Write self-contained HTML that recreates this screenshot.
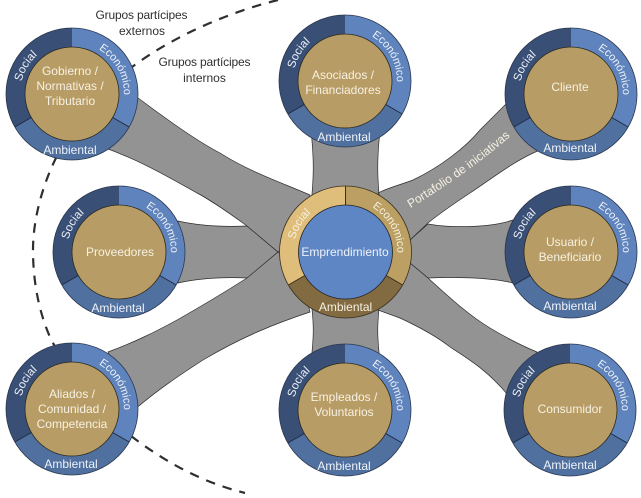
<!DOCTYPE html>
<html><head><meta charset="utf-8"><style>
html,body{margin:0;padding:0;background:#fff}
svg{display:block;filter:blur(.3px)}
text{font-family:"Liberation Sans",sans-serif;font-size:12px;fill:#f6f1e2}
.r{fill:#eef2f8}
.a{text-anchor:middle}
.d{fill:#2f2f2f}
.e{font-size:11px}
.s{font-size:11.5px}
</style></head><body>
<svg width="641" height="498" viewBox="0 0 641 498" xmlns="http://www.w3.org/2000/svg">
<defs>
<path id="eco" d="M4,-52A52,52 0 0 1 46,24"/>
<path id="soc" d="M-45.5,25.2A52,52 0 0 1 0.9,-52"/>
<g id="n">
<path d="M0,0L0,-66A66,66 0 0 0 -57.16,33Z" fill="#394f75"/>
<path d="M0,0L0,-66A66,66 0 0 1 57.16,33Z" fill="#5f84bd"/>
<path d="M0,0L57.16,33A66,66 0 0 1 -57.16,33Z" fill="#50709f"/>
<path d="M0,0L57.16,33M0,0L-57.16,33" stroke="#1f2b40" stroke-width="1"/>
<circle r="66" fill="none" stroke="#2b3850" stroke-width=".8"/>
<circle r="47" fill="#b89c65" stroke="#2a2a22" stroke-width=".8"/>
</g>
<g id="c">
<path d="M0,0L0,-66A66,66 0 0 0 -57.16,33Z" fill="#dfbd7a"/>
<path d="M0,0L0,-66A66,66 0 0 1 57.16,33Z" fill="#bc9f62"/>
<path d="M0,0L57.16,33A66,66 0 0 1 -57.16,33Z" fill="#826a41"/>
<path d="M0,0L0,-66M0,0L57.16,33M0,0L-57.16,33" stroke="#3a3020" stroke-width="1"/>
<circle r="66" fill="none" stroke="#3a3020" stroke-width=".8"/>
<circle r="47" fill="#5f86c4" stroke="#22242a" stroke-width=".8"/>
</g>
</defs>

<path d="M278,0C230,12 175,35 132,67C100,90 72,125 55,160C42,187 33,220 33,250C33,282 39,312 50,337C70,378 100,412 135,439C170,465 205,483 245,493" fill="none" stroke="#2f2f2f" stroke-width="2.2" stroke-dasharray="9.5 8"/>

<g fill="#939393" stroke="#2c2c2c" stroke-width=".7">
<path d="M311,130C314,160 314,175 311,205L380,205C377,175 377,160 380,130Z"/>
<path d="M311,300C314,325 314,335 311,362L380,362C377,335 377,325 380,300Z"/>
<path d="M178,221C200,226 225,227 247,226L278,252L248,278C225,277 200,278 178,283Z"/>
<path d="M428,224C450,228 490,228 513,220L513,283C490,277 450,277 428,278L410,263L410,240Z"/>
<path d="M134,95C165,118 195,140 220,153C250,172 280,182 310,195L300,235L278,252L247,226C225,210 205,197 197,193C170,178 140,160 100,146Z"/>
<path d="M108,352C135,342 155,332 177,320C200,307 225,292 247,278L278,252L300,270L310,312C280,322 245,335 203,360C180,375 160,388 134,410Z"/>
<path d="M378,193C390,187 400,185 413,180C440,167 465,148 480,130L510,100L540,150C515,160 490,180 470,193C455,203 440,213 428,223L410,240L395,215Z"/>
<path d="M410,263L428,278C447,295 468,315 490,328C505,337 520,345 537,352L512,400C490,372 470,360 450,347C435,335 415,325 400,318L378,310Z"/>
</g>

<use href="#n" x="72" y="94"/>
<use href="#n" x="345" y="81"/>
<use href="#n" x="571" y="94"/>
<use href="#n" x="119" y="252"/>
<use href="#n" x="571" y="252"/>
<use href="#n" x="72" y="409"/>
<use href="#n" x="345" y="410"/>
<use href="#n" x="570" y="410"/>
<use href="#c" x="345.5" y="252"/>

<g transform="translate(72,94)"><text class="r e"><textPath href="#eco" startOffset="50%" text-anchor="middle">Económico</textPath></text><text class="r s"><textPath href="#soc" startOffset="50%" text-anchor="middle">Social</textPath></text><text class="r a" x="-2" y="60">Ambiental</text></g>
<g transform="translate(345,81)"><text class="r e"><textPath href="#eco" startOffset="50%" text-anchor="middle">Económico</textPath></text><text class="r s"><textPath href="#soc" startOffset="50%" text-anchor="middle">Social</textPath></text><text class="r a" x="-1" y="60">Ambiental</text></g>
<g transform="translate(571,94)"><text class="r e"><textPath href="#eco" startOffset="50%" text-anchor="middle">Económico</textPath></text><text class="r s"><textPath href="#soc" startOffset="50%" text-anchor="middle">Social</textPath></text><text class="r a" x="-1" y="58">Ambiental</text></g>
<g transform="translate(119,252)"><text class="r e"><textPath href="#eco" startOffset="50%" text-anchor="middle">Económico</textPath></text><text class="r s"><textPath href="#soc" startOffset="50%" text-anchor="middle">Social</textPath></text><text class="r a" x="-1" y="60">Ambiental</text></g>
<g transform="translate(571,252)"><text class="r e"><textPath href="#eco" startOffset="50%" text-anchor="middle">Económico</textPath></text><text class="r s"><textPath href="#soc" startOffset="50%" text-anchor="middle">Social</textPath></text><text class="r a" x="-1" y="58">Ambiental</text></g>
<g transform="translate(72,409)"><text class="r e"><textPath href="#eco" startOffset="50%" text-anchor="middle">Económico</textPath></text><text class="r s"><textPath href="#soc" startOffset="50%" text-anchor="middle">Social</textPath></text><text class="r a" x="-1" y="59">Ambiental</text></g>
<g transform="translate(345,410)"><text class="r e"><textPath href="#eco" startOffset="50%" text-anchor="middle">Económico</textPath></text><text class="r s"><textPath href="#soc" startOffset="50%" text-anchor="middle">Social</textPath></text><text class="r a" x="-1" y="60">Ambiental</text></g>
<g transform="translate(570,410)"><text class="r e"><textPath href="#eco" startOffset="50%" text-anchor="middle">Económico</textPath></text><text class="r s"><textPath href="#soc" startOffset="50%" text-anchor="middle">Social</textPath></text><text class="r a" x="0" y="59">Ambiental</text></g>
<g transform="translate(345.5,252)"><text class="e"><textPath href="#eco" startOffset="50%" text-anchor="middle">Económico</textPath></text><text class="s"><textPath href="#soc" startOffset="50%" text-anchor="middle">Social</textPath></text><text class="a" x="0" y="59">Ambiental</text></g>

<g class="a">
<text class="a" x="70" y="75">Gobierno /</text>
<text class="a" x="70" y="90">Normativas /</text>
<text class="a" x="70" y="105">Tributario</text>
<text class="a" x="343" y="79">Asociados /</text>
<text class="a" x="343" y="94">Financiadores</text>
<text class="a" x="570" y="91">Cliente</text>
<text class="a" x="120" y="256">Proveedores</text>
<text class="a" x="570" y="246">Usuario /</text>
<text class="a" x="570" y="261">Beneficiario</text>
<text class="a" x="72" y="398">Aliados /</text>
<text class="a" x="72" y="413">Comunidad /</text>
<text class="a" x="72" y="428">Competencia</text>
<text class="a" x="344" y="401">Empleados /</text>
<text class="a" x="344" y="416">Voluntarios</text>
<text class="a" x="570" y="413">Consumidor</text>
<text class="a" x="345" y="256" style="fill:#eef2f8">Emprendimiento</text>
</g>

<text class="d a" x="141.5" y="19" textLength="92">Grupos partícipes</text>
<text class="d a" x="142" y="35">externos</text>
<text class="d a" x="204.5" y="66" textLength="92">Grupos partícipes</text>
<text class="d a" x="204.5" y="82">internos</text>

<path id="pf" d="M409,209C440,190 478,165 512,135" fill="none"/>
<text><textPath href="#pf" startOffset="50%" text-anchor="middle">Portafolio de iniciativas</textPath></text>
</svg>
</body></html>
